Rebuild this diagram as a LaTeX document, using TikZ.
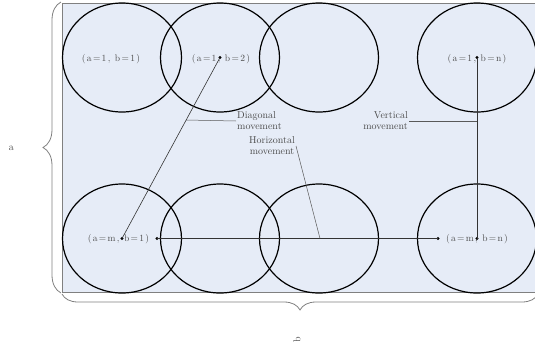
\documentclass[tikz,border=0pt]{standalone}
\usepackage{fontspec}
\usetikzlibrary{decorations.pathreplacing}
\newfontfamily\crdfont{lmroman10-regular.otf}[LetterSpace=14]
\definecolor{panel}{RGB}{230,236,247}
\definecolor{ink}{RGB}{75,75,75}

\begin{document}
\begin{tikzpicture}[x=1pt,y=-1pt,
  dot/.style={circle,fill=black,inner sep=0pt,minimum size=3.2pt},
  crd/.style={text=ink,inner sep=0pt,font=\crdfont\fontsize{9.5}{10}\selectfont},
  lbl/.style={text=ink,inner sep=1pt,font=\fontsize{10}{11}\selectfont},
  leader/.style={black!65,line width=.5pt},
  link/.style={black!80,line width=.6pt},
  ring/.style={line width=1.2pt},
  brc/.style={black!50,line width=.8pt,decorate}]
\path[use as bounding box] (0,0) rectangle (535,346);
\begin{scope}
\clip (0,0) rectangle (535,346);
\draw[fill=panel,draw=black!50,line width=.8pt] (62,3) rectangle (560,292.5);
\draw[ring] (122,57.5) ellipse[x radius=59.5,y radius=54.5];
\draw[ring] (220,57.5) ellipse[x radius=59.5,y radius=54.5];
\draw[ring] (319,57.5) ellipse[x radius=59.5,y radius=54.5];
\draw[ring] (477,57.5) ellipse[x radius=59.5,y radius=54.5];
\draw[ring] (122,238.5) ellipse[x radius=59.5,y radius=54.5];
\draw[ring] (220,238.5) ellipse[x radius=59.5,y radius=54.5];
\draw[ring] (319,238.5) ellipse[x radius=59.5,y radius=54.5];
\draw[ring] (477,238.5) ellipse[x radius=59.5,y radius=54.5];
\draw[brc,decoration={brace,amplitude=16pt}] (538,294) -- (62,294);
\end{scope}
\draw[brc,decoration={brace,amplitude=18pt}] (61,293) -- (61,2);

\node[crd] (t11) at (111,59.5) {(a=1, b=1)};
\node[crd] (t12) at (221,59) {(a=1, b=2)};
\node[crd] (t1n) at (477,59) {(a=1, b=n)};
\node[crd] (tm1) at (118.5,239.5) {(a=m, b=1)};
\node[crd] (tmn) at (477,239.5) {(a=m, b=n)};

\node[dot] (p12) at (220,57.5) {};
\node[dot] (p1n) at (477,57.5) {};
\node[dot] (pm1) at (122,238.5) {};
\node[dot] (pmn) at (477,238.5) {};
\node[dot] (h1) at (157,238.5) {};
\node[dot] (h2) at (438,238.5) {};
\draw[link] (pm1.center) -- (p12.center);
\draw[link] (p1n.center) -- (pmn.center);
\draw[link] (h1.center) -- (h2.center);

\node[lbl,anchor=west,align=left] (mvD) at (236,121) {Diagonal\\movement};
\node[lbl,anchor=east,align=right] (mvV) at (409,121) {Vertical\\movement};
\node[lbl,align=center] (mvH) at (272,146) {Horizontal\\movement};
\coordinate (jD) at (186,120);
\coordinate (jV) at (477,121);
\coordinate (jH) at (320,238.5);
\draw[leader] (jD) -- (mvD.west);
\draw[leader] (mvV.east) -- (jV);
\draw[leader] (mvH.east) -- (jH);

\node[lbl] (sa) at (11.5,148) {a};
\node[lbl,rotate=90] (sb) at (297,339.5) {b};
\end{tikzpicture}
\end{document}
